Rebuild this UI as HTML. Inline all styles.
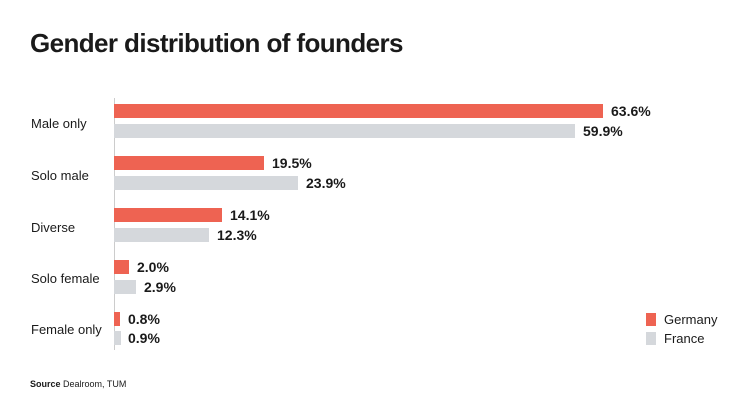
<!DOCTYPE html>
<html><head><style>
body{margin:0;width:746px;height:419px;background:#fff;font-family:"Liberation Sans",sans-serif;position:relative;overflow:hidden;color:#1a1a1a}
.a{position:absolute}
.t{left:30px;top:28px;font-size:26px;font-weight:bold;letter-spacing:-0.6px}
.c{left:31px;font-size:13px}
.g{background:#ee6352;height:14px;left:114px}
.f{background:#d5d8dc;height:14px;left:114px}
.v{font-size:14px;font-weight:bold;margin-top:-1px}
</style></head><body>
<div class="a t">Gender distribution of founders</div>
<div class="a" style="left:114px;top:98px;width:1px;height:252px;background:#ccc"></div>

<div class="a c" style="top:116px">Male only</div>
<div class="a g" style="top:104px;width:489px"></div><div class="a v" style="left:611px;top:104px">63.6%</div>
<div class="a f" style="top:124px;width:461px"></div><div class="a v" style="left:583px;top:124px">59.9%</div>

<div class="a c" style="top:168px">Solo male</div>
<div class="a g" style="top:156px;width:150px"></div><div class="a v" style="left:272px;top:156px">19.5%</div>
<div class="a f" style="top:176px;width:184px"></div><div class="a v" style="left:306px;top:176px">23.9%</div>

<div class="a c" style="top:220px">Diverse</div>
<div class="a g" style="top:208px;width:108px"></div><div class="a v" style="left:230px;top:208px">14.1%</div>
<div class="a f" style="top:228px;width:95px"></div><div class="a v" style="left:217px;top:228px">12.3%</div>

<div class="a c" style="top:271px">Solo female</div>
<div class="a g" style="top:260px;width:15px"></div><div class="a v" style="left:137px;top:260px">2.0%</div>
<div class="a f" style="top:280px;width:22px"></div><div class="a v" style="left:144px;top:280px">2.9%</div>

<div class="a c" style="top:322px">Female only</div>
<div class="a g" style="top:312px;width:6px"></div><div class="a v" style="left:128px;top:312px">0.8%</div>
<div class="a f" style="top:331px;width:7px"></div><div class="a v" style="left:128px;top:331px">0.9%</div>

<div class="a" style="left:646px;top:313px;width:10px;height:13px;background:#ee6352"></div>
<div class="a" style="left:664px;top:312px;font-size:13px">Germany</div>
<div class="a" style="left:646px;top:332px;width:10px;height:13px;background:#d5d8dc"></div>
<div class="a" style="left:664px;top:331px;font-size:13px">France</div>

<div class="a" style="left:30px;top:379px;font-size:9px"><b>Source</b> Dealroom, TUM</div>
</body></html>
